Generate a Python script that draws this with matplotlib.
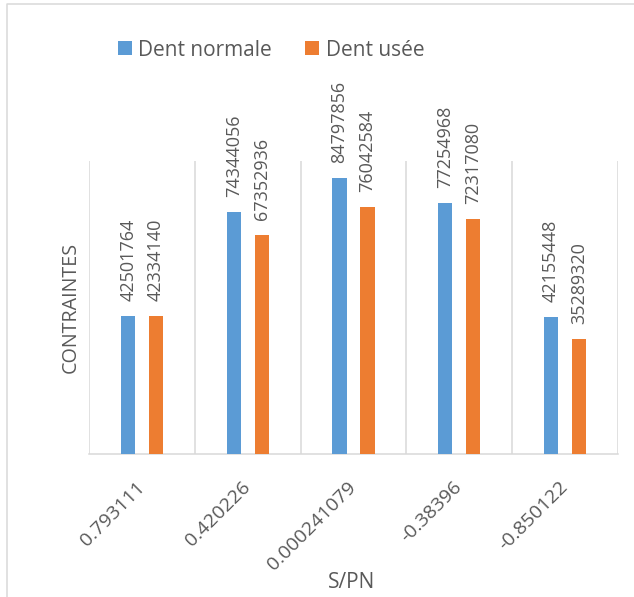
import matplotlib
matplotlib.use("Agg")
import matplotlib.pyplot as plt
from matplotlib.lines import Line2D
from matplotlib.patches import Patch
import numpy as np

plt.rcParams['font.family'] = ['Open Sans', 'DejaVu Sans']

# S/PN ratio categories and stress values for both teeth
categories = ["0.793111", "0.420226", "0.000241079", "-0.38396", "-0.850122"]
dent_normale = [42501764, 74344056, 84797856, 77254968, 42155448]
dent_usee = [42334140, 67352936, 76042584, 72317080, 35289320]
series_names = ["Dent normale", "Dent usée"]

BLUE = "#5B9BD5"
ORANGE = "#ED7D31"
TEXT = "#595959"
GRID = "#D9D9D9"

W, H = 634, 597
fig = plt.figure(figsize=(W / 100, H / 100), dpi=100)

# plot area in pixels
left, right, top, bottom = 89.3, 617.7, 161.5, 454.0
ax = fig.add_axes([left / W, (H - bottom) / H, (right - left) / W, (bottom - top) / H])

x = np.arange(len(categories))
bw = 0.137
off = 0.132
b1 = ax.bar(x - off, dent_normale, width=bw, color=BLUE, zorder=3)
b2 = ax.bar(x + off, dent_usee, width=bw, color=ORANGE, zorder=3)

ax.set_xlim(-0.5, len(categories) - 0.5)
ax.set_ylim(0, 90_000_000)

# value labels above each bar, rotated
for bars, vals in ((b1, dent_normale), (b2, dent_usee)):
    for rect, v in zip(bars, vals):
        ax.annotate(f"{v}", (rect.get_x() + rect.get_width() / 2, v),
                    xytext=(0, 10.8), textcoords="offset points",
                    rotation=90, ha="center", va="bottom",
                    fontsize=13, color=TEXT, annotation_clip=False)

# category separators and frame
for b in np.arange(-0.5, len(categories), 1.0):
    ax.axvline(b, color=GRID, lw=1.1, zorder=1)
for s in ("top", "right", "left"):
    ax.spines[s].set_visible(False)
ax.spines["bottom"].set_color(GRID)
ax.spines["bottom"].set_linewidth(1.1)

ax.set_yticks([])
ax.set_xticks(x)
ax.set_xticklabels(categories, rotation=45, ha="right", va="center",
                   rotation_mode="anchor", fontsize=14, color=TEXT)
ax.tick_params(axis="x", length=0, pad=22)

fig.text(71 / W, 1 - 307 / H, "CONTRAINTES", rotation=90, ha="center", va="center",
         fontsize=14.2, color=TEXT)
fig.text(352 / W, 1 - 582 / H, "S/PN", ha="center", va="center",
         fontsize=15, color=TEXT)

handles = [Patch(facecolor=BLUE, edgecolor="none"), Patch(facecolor=ORANGE, edgecolor="none")]
fig.legend(handles, series_names, loc="center left", bbox_to_anchor=(118 / W, 1 - 50 / H),
           ncol=2, frameon=False, fontsize=15, labelcolor=TEXT,
           handlelength=0.67, handleheight=0.67, handletextpad=0.3,
           columnspacing=1.6, borderpad=0, borderaxespad=0)

# chart area border
fig.add_artist(Line2D([6.5 / W, 6.5 / W, 1.0], [0.0, 1 - 3.5 / H, 1 - 3.5 / H],
                      transform=fig.transFigure, color=GRID, lw=1.1))

fig.savefig("out.png", dpi=100)
